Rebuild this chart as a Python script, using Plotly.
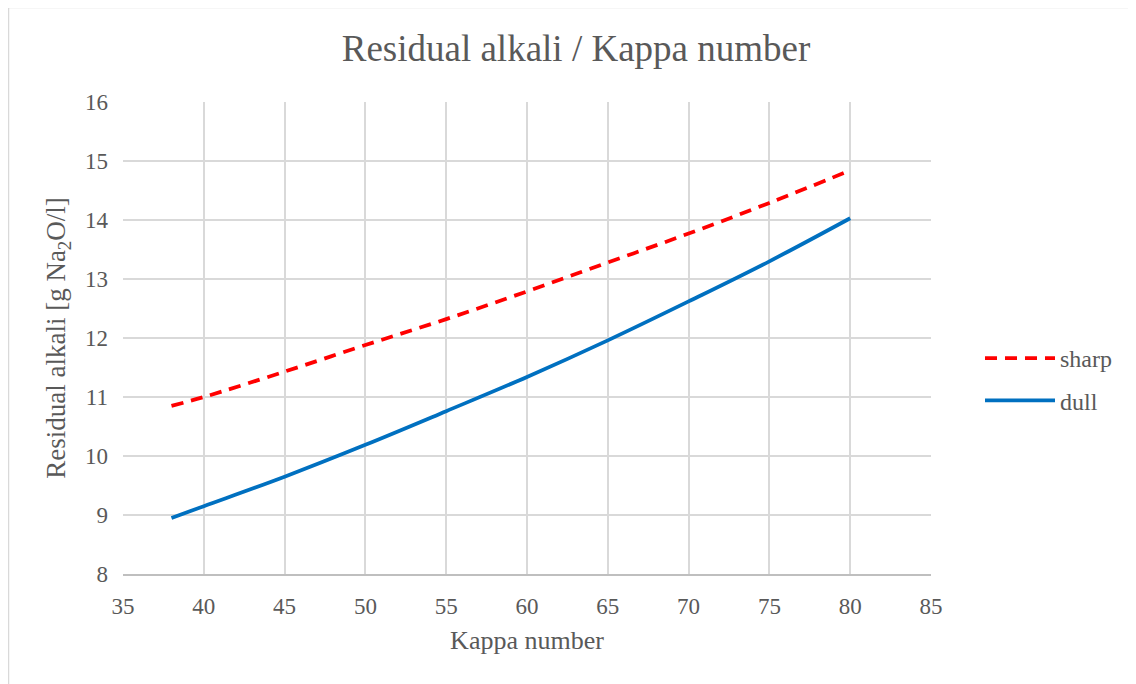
import plotly.graph_objects as go

kappa = [38, 40, 45, 50, 55, 60, 65, 70, 75, 80]
sharp = [10.85, 11.00, 11.43, 11.88, 12.32, 12.79, 13.28, 13.77, 14.29, 14.84]
dull = [8.95, 9.15, 9.65, 10.19, 10.76, 11.34, 11.96, 12.62, 13.30, 14.03]

# page has an 8px body margin, so figure coords = page coords - 8
OFF = 8
W, H = 1136, 684
L, T = 123 - OFF, 102 - OFF
Rg, Bt = 931 - OFF, 574 - OFF
R, B = W - Rg, H - Bt
pw, ph = Rg - L, Bt - T

def px(x):
    return (x - OFF - L) / pw

def py(y):
    return (Bt - (y - OFF)) / ph

txt = "#595959"
font = "Liberation Serif, Times New Roman, serif"

fig = go.Figure()
fig.add_trace(go.Scatter(x=kappa, y=sharp, mode="lines", name="sharp",
                         line=dict(color="#ff0000", width=3.75, dash="12px,8px", shape="spline"),
                         legendgroup="a"))
fig.add_trace(go.Scatter(x=kappa, y=dull, mode="lines", name="dull",
                         line=dict(color="#0070c0", width=3.75, shape="spline"),
                         legendgroup="b"))

fig.update_layout(
    width=W, height=H,
    margin=dict(l=L, r=R, t=T, b=B),
    paper_bgcolor="white", plot_bgcolor="white",
    font=dict(family=font, color=txt, size=23),
    title=dict(text="Residual alkali / Kappa number", x=0.5, xanchor="center",
               y=1 - 40 / H, yanchor="middle", font=dict(size=37, color=txt)),
    legend=dict(x=px(980), xanchor="left", y=py(336), yanchor="top",
                font=dict(size=24, color=txt), itemwidth=70, tracegroupgap=8,
                bgcolor="rgba(0,0,0,0)"),
    showlegend=True,
)
fig.update_xaxes(range=[35, 85], dtick=5, tick0=35, showgrid=True, gridcolor="#d9d9d9",
                 gridwidth=1.5, showline=True, linecolor="#bfbfbf", linewidth=1.5,
                 zeroline=False, ticks="", ticklabelstandoff=11,
                 tickfont=dict(size=23, color=txt),
                 title=dict(text="Kappa number", font=dict(size=26, color=txt), standoff=12),
                 automargin=False)
fig.update_yaxes(range=[8, 16], dtick=1, showgrid=True, gridcolor="#d9d9d9",
                 gridwidth=1.5, showline=False, zeroline=False, ticks="",
                 ticklabelstandoff=14, tickfont=dict(size=23, color=txt),
                 title=dict(text="Residual alkali [g Na<sub>2</sub>O/l]",
                            font=dict(size=27, color=txt), standoff=11),
                 automargin=False)

fig.add_shape(type="rect", xref="paper", yref="paper",
              x0=px(8.5), x1=px(W + 20), y0=py(H + 20), y1=py(7.5),
              line=dict(color="#d9d9d9", width=1.5), fillcolor="rgba(0,0,0,0)", layer="below")

fig.write_html("out.html")
